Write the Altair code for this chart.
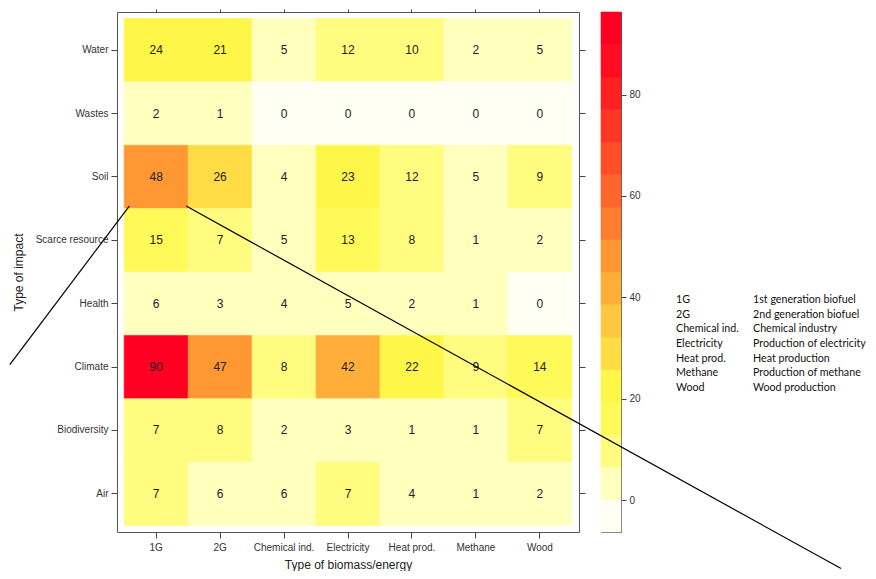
import altair as alt
import numpy as np
import pandas as pd

# ---------------- data ----------------
sources = ["1G", "2G", "Chemical ind.", "Electricity", "Heat prod.", "Methane", "Wood"]
impacts = ["Water", "Wastes", "Soil", "Scarce resource", "Health", "Climate", "Biodiversity", "Air"]

water = [24, 21, 5, 12, 10, 2, 5]
wastes = [2, 1, 0, 0, 0, 0, 0]
soil = [48, 26, 4, 23, 12, 5, 9]
scarce_resource = [15, 7, 5, 13, 8, 1, 2]
health = [6, 3, 4, 5, 2, 1, 0]
climate = [90, 47, 8, 42, 22, 9, 14]
biodiversity = [7, 8, 2, 3, 1, 1, 7]
air = [7, 6, 6, 7, 4, 1, 2]

rows = [water, wastes, soil, scarce_resource, health, climate, biodiversity, air]

colorbar_ticks = [0, 20, 40, 60, 80]

legend_abbrev = ["1G", "2G", "Chemical ind.", "Electricity", "Heat prod.", "Methane", "Wood"]
legend_desc = ["1st generation biofuel", "2nd generation biofuel", "Chemical industry",
               "Production of electricity", "Heat production", "Production of methane",
               "Wood production"]

# callout lines (in heatmap cell units: column index, row index from top)
callout_u0 = [0.08, 0.97]
callout_v0 = [2.96, 2.96]
callout_u1 = [-1.788, 11.21]
callout_v1 = [5.46, 8.68]

# ---------------- style / layout ----------------
palette = ["#FFFFF3", "#FFFFBE", "#FFFC80", "#FFF95A", "#FFF64A", "#FFDC44", "#FFC63F",
           "#FFAE3A", "#FF9833", "#FF7D2F", "#FF652C", "#FF4E28", "#FF3724", "#FF2022",
           "#FF0C22", "#FF0022"]

HM_W, HM_H = 462, 520
CB_W = 20
GAP = 22
TXT_W = 120
PAD_X, PAD_Y = 0.112, 0.1025
LEG_X0, LEG_COL = 33, 77
LEG_TOP, LEG_STEP = 288, 14.67

FONT = "Liberation Sans"

# ---------------- tables ----------------
df = pd.DataFrame(
    [{"impact": imp, "source": src, "value": rows[i][j]}
     for i, imp in enumerate(impacts) for j, src in enumerate(sources)]
)

allv = np.array(rows, dtype=float)
zmin, zmax = allv.min(), allv.max()
ext = 0.07 * (zmax - zmin)
breaks = np.linspace(zmin - ext, zmax + ext, len(palette) + 1)

color_scale = alt.Scale(type="threshold", domain=list(breaks[1:-1]), range=palette)

# ---------------- heatmap ----------------
x_scale = alt.Scale(paddingInner=0, paddingOuter=PAD_X)
y_scale = alt.Scale(paddingInner=0, paddingOuter=PAD_Y)

rects = alt.Chart(df).mark_rect(strokeWidth=0.6).encode(
    x=alt.X("source:N", sort=sources, scale=x_scale,
            axis=alt.Axis(title="Type of biomass/energy", labelAngle=0, tickSize=6,
                          labelPadding=4, titlePadding=7)),
    y=alt.Y("impact:N", sort=impacts, scale=y_scale,
            axis=alt.Axis(title="Type of impact", tickSize=6, labelPadding=3,
                          titlePadding=10)),
    color=alt.Color("value:Q", scale=color_scale, legend=None),
    stroke=alt.Stroke("value:Q", scale=color_scale, legend=None),
)

texts = alt.Chart(df).mark_text(fontSize=12, color="#222222", font=FONT).encode(
    x=alt.X("source:N", sort=sources, scale=x_scale,
            axis=alt.Axis(orient="top", labels=False, title=None, tickSize=3)),
    y=alt.Y("impact:N", sort=impacts, scale=y_scale,
            axis=alt.Axis(orient="right", labels=False, title=None, tickSize=6)),
    text="value:Q",
)

heat = alt.layer(rects, texts).resolve_axis(x="independent", y="independent").properties(
    width=HM_W, height=HM_H
)

# ---------------- colorbar ----------------
cb_df = pd.DataFrame({
    "lo": breaks[:-1],
    "hi": breaks[1:],
    "mid": (breaks[:-1] + breaks[1:]) / 2,
    "x0": 0.0,
    "x1": 1.0,
})

cb_rect = alt.Chart(cb_df).mark_rect(strokeWidth=0.6).encode(
    x=alt.X("x0:Q", scale=alt.Scale(domain=[0, 1], nice=False, zero=False), axis=None),
    x2="x1",
    y=alt.Y("lo:Q", scale=alt.Scale(domain=[float(breaks[0]), float(breaks[-1])], nice=False, zero=False),
            axis=alt.Axis(orient="right", values=colorbar_ticks, title=None, tickSize=5,
                          labelPadding=3)),
    y2="hi",
    color=alt.Color("mid:Q", scale=color_scale, legend=None),
    stroke=alt.Stroke("mid:Q", scale=color_scale, legend=None),
)

step_x = HM_W / (len(sources) + 2 * PAD_X)
step_y = HM_H / (len(impacts) + 2 * PAD_Y)
u_dom = [(HM_W + GAP) / step_x - PAD_X, (HM_W + GAP + CB_W) / step_x - PAD_X]
v_dom = [-PAD_Y, HM_H / step_y - PAD_Y]

lines_df = pd.DataFrame({"u0": callout_u0, "v0": callout_v0, "u1": callout_u1, "v1": callout_v1})
lines = alt.Chart(lines_df).mark_rule(color="black", strokeWidth=1.2, clip=False).encode(
    x=alt.X("u0:Q", scale=alt.Scale(domain=u_dom, nice=False, zero=False), axis=None),
    x2="u1",
    y=alt.Y("v0:Q", scale=alt.Scale(domain=v_dom, nice=False, zero=False, reverse=True), axis=None),
    y2="v1",
)

cbar = alt.layer(cb_rect, lines).resolve_scale(x="independent", y="independent").properties(
    width=CB_W, height=HM_H
)

# ---------------- text legend ----------------
leg_df = pd.DataFrame(
    [{"col": 0, "row": i, "label": a} for i, a in enumerate(legend_abbrev)]
    + [{"col": 1, "row": i, "label": d} for i, d in enumerate(legend_desc)]
)
legend_panel = alt.Chart(leg_df).mark_text(
    align="left", baseline="middle", font="Lato", fontSize=10.7, color="#111111"
).encode(
    x=alt.X("col:Q", scale=alt.Scale(domain=[-LEG_X0 / LEG_COL, (TXT_W - LEG_X0) / LEG_COL],
                                     nice=False, zero=False), axis=None),
    y=alt.Y("row:Q", scale=alt.Scale(domain=[-LEG_TOP / LEG_STEP, (HM_H - LEG_TOP) / LEG_STEP],
                                     nice=False, zero=False, reverse=True), axis=None),
    text="label:N",
).properties(width=TXT_W, height=HM_H, view=alt.ViewBackground(stroke="transparent"))

chart = alt.hconcat(heat, cbar, legend_panel, spacing=GAP, bounds="flush").properties(
    padding=0
).configure_view(
    stroke="#555555", strokeWidth=1
).configure_axis(
    labelFont=FONT, labelFontSize=10, labelColor="#333333",
    titleFont=FONT, titleFontSize=12, titleColor="#222222", titleFontWeight="normal",
    tickColor="#444444", grid=False, domain=False,
)

chart.save("out.html", embed_options={"renderer": "svg", "actions": False})
